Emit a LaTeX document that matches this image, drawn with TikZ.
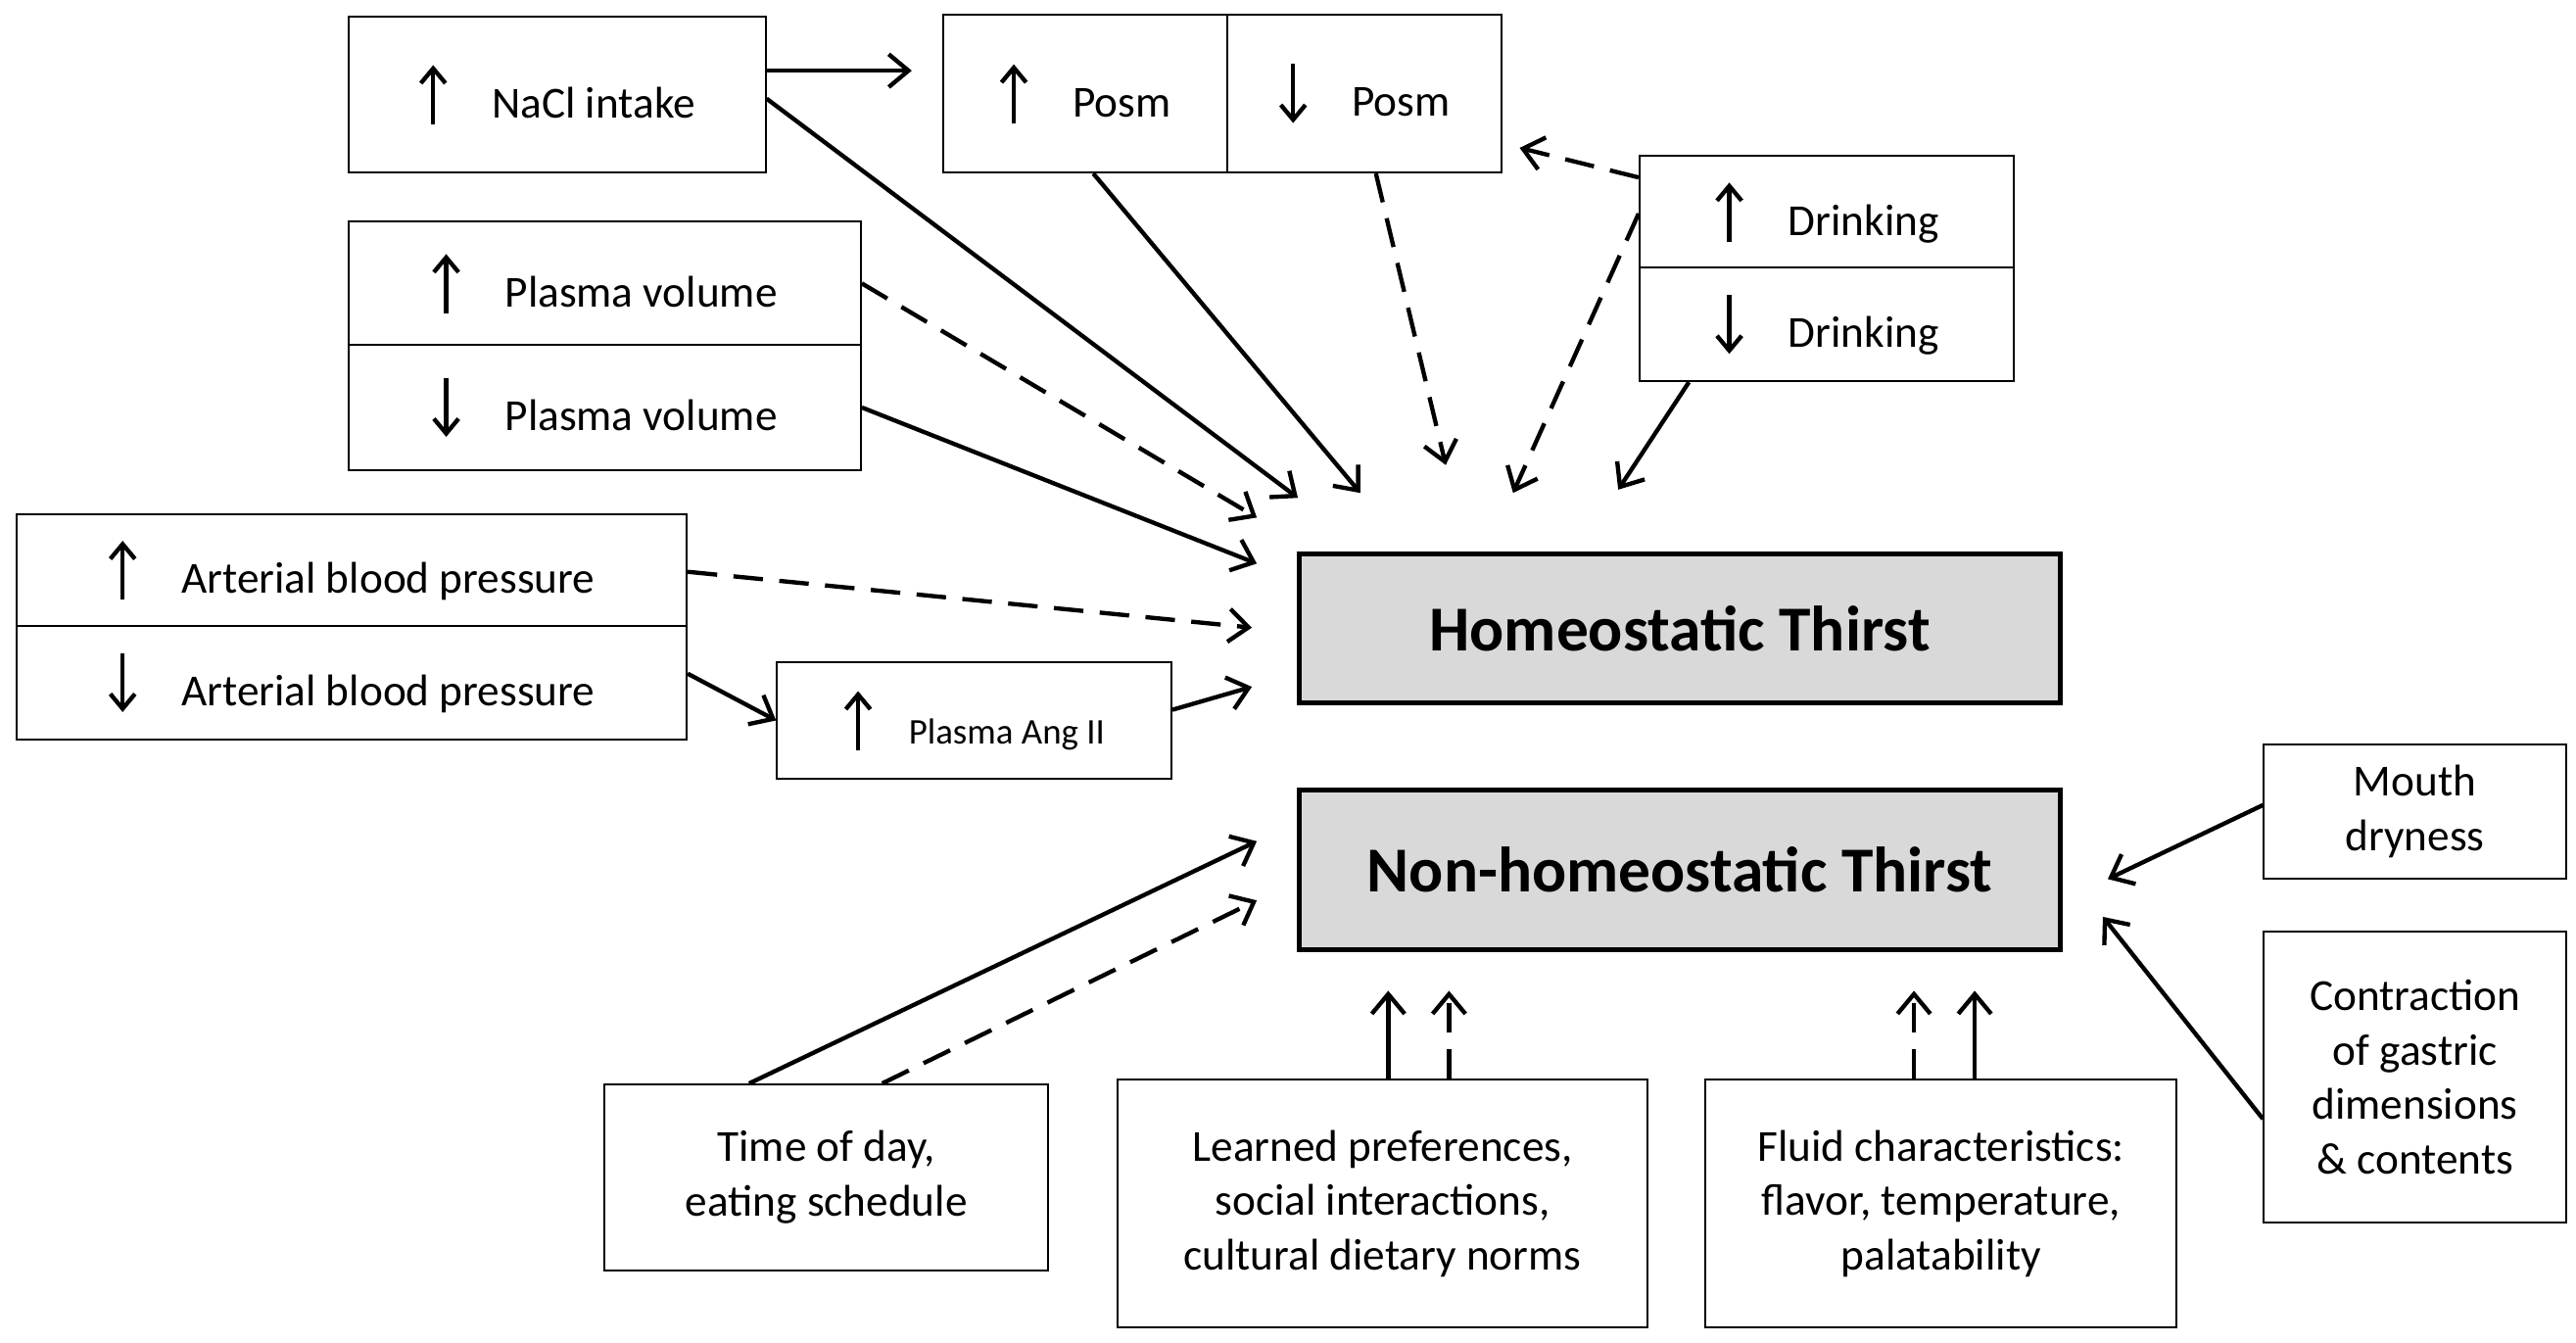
\documentclass[tikz,border=0pt]{standalone}
\usepackage{fontspec}
\setmainfont{Carlito}
\usetikzlibrary{arrows.meta}
\newcommand{\upa}{\tikz[baseline=-2pt,x=1pt,y=1pt]\draw[line width=2.6pt,-{Straight Barb[length=9pt,width=15pt]}] (0,-6)--(0,30);}
\newcommand{\dna}{\tikz[baseline=-2pt,x=1pt,y=1pt]\draw[line width=2.6pt,-{Straight Barb[length=9pt,width=15pt]}] (0,30)--(0,-6);}
\begin{document}
\begin{tikzpicture}[x=1pt,y=-1pt,
  box/.style={draw,line width=1.2pt,inner sep=0pt,align=center,font=\fontsize{27}{33}\selectfont},
  thirst/.style={draw,line width=3pt,fill=gray!30,inner sep=0pt,font=\fontsize{39}{44}\selectfont\bfseries},
  arr/.style={line width=2.6pt,-{Straight Barb[length=12pt,width=20pt]}},
  darr/.style={arr,dash pattern=on 18pt off 10pt}]
\useasboundingbox (0,0) rectangle (1568,817);

% boxes
\node[box,minimum width=254,minimum height=95] (nacl) at (339,57.5) {\upa\quad NaCl intake};
\node[box,minimum width=173,minimum height=96] (posmup) at (660.5,57) {\upa\quad Posm};
\node[box,minimum width=167,minimum height=96] (posmdn) at (830.5,57) {\dna\quad Posm};
\node[box,minimum width=228,minimum height=68] (drinkup) at (1112,129) {\upa\quad Drinking};
\node[box,minimum width=228,minimum height=69] (drinkdn) at (1112,197.5) {\dna\quad Drinking};
\node[box,minimum width=312,minimum height=75] (pvup) at (368,172.5) {\upa\quad Plasma volume};
\node[box,minimum width=312,minimum height=76] (pvdn) at (368,248) {\dna\quad Plasma volume};
\node[box,minimum width=408,minimum height=68] (abpup) at (214,347) {\upa\quad Arterial blood pressure};
\node[box,minimum width=408,minimum height=69] (abpdn) at (214,415.5) {\dna\quad Arterial blood pressure};
\node[box,minimum width=240,minimum height=71,font=\fontsize{22}{26}\selectfont] (ang) at (593,438.5) {\upa\quad Plasma Ang II};
\node[thirst,minimum width=463,minimum height=91] (homeo) at (1022.5,382.5) {Homeostatic Thirst};
\node[thirst,minimum width=463,minimum height=97] (nonh) at (1022.5,529.5) {Non-homeostatic Thirst};
\node[box,minimum width=184,minimum height=82] (mouth) at (1470,494) {Mouth\\dryness};
\node[box,minimum width=184,minimum height=177] (contr) at (1470,655.5) {Contraction\\of gastric\\dimensions\\\& contents};
\node[box,minimum width=270,minimum height=113] (time) at (503,716.5) {Time of day,\\eating schedule};
\node[box,minimum width=323,minimum height=151] (learned) at (841.5,732.5) {Learned preferences,\\social interactions,\\cultural dietary norms};
\node[box,minimum width=287,minimum height=151] (fluid) at (1181.5,732.5) {Fluid characteristics:\\flavor, temperature,\\palatability};

% free ends
\coordinate (tnacl) at (555,43);
\coordinate (h1) at (790,303);
\coordinate (h2) at (828,300);
\coordinate (h3) at (880,283);
\coordinate (h4) at (921,300);
\coordinate (h5) at (985,298);
\coordinate (h6) at (765,315);
\coordinate (h7) at (765,343);
\coordinate (h8) at (762,382);
\coordinate (h9) at (762,418);
\coordinate (tposm) at (925,90);
\coordinate (n1) at (765,512);
\coordinate (n2) at (765,548);
\coordinate (n3) at (845,603);
\coordinate (n4) at (882,603);
\coordinate (n5) at (1165,603);
\coordinate (n6) at (1202,603);
\coordinate (n7) at (1283,535);
\coordinate (n8) at (1280,558);

% connectors
\draw[arr] ([yshift=14.5]nacl.east) -- (tnacl);
\draw[arr] ([yshift=-2.5]nacl.east) -- (h1);
\draw[arr] ([xshift=5]posmup.south) -- (h2);
\draw[darr] ([xshift=7]posmdn.south) -- (h3);
\draw[darr] ([yshift=21]drinkup.west) -- (tposm);
\draw[darr] ([yshift=-1]drinkup.west) -- (h4);
\draw[arr] ([xshift=-84]drinkdn.south) -- (h5);
\draw[darr] (pvup.east) -- (h6);
\draw[arr] (pvdn.east) -- (h7);
\draw[darr] ([yshift=-1]abpup.east) -- (h8);
\draw[arr] ([yshift=5.5]abpdn.east) -- (ang.west);
\draw[arr] ([yshift=6.5]ang.east) -- (h9);
\draw[arr] ([xshift=-47]time.north) -- (n1);
\draw[darr] ([xshift=34]time.north) -- (n2);
\draw[arr] ([xshift=3.5]learned.north) -- (n3);
\draw[darr] ([xshift=40.5]learned.north) -- (n4);
\draw[darr] ([xshift=-16.5]fluid.north) -- (n5);
\draw[arr] ([xshift=20.5]fluid.north) -- (n6);
\draw[arr] ([yshift=4]mouth.west) -- (n7);
\draw[arr] ([yshift=-25.5]contr.west) -- (n8);
\end{tikzpicture}
\end{document}
